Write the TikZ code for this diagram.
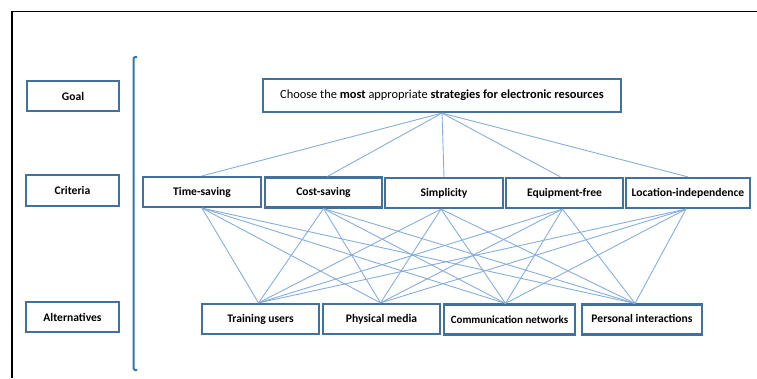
\documentclass[tikz,border=0pt]{standalone}
\usepackage{fontspec}
\setmainfont{Carlito}
\definecolor{boxblue}{HTML}{41719C}
\definecolor{linkblue}{HTML}{86AEDC}
\definecolor{bracketblue}{HTML}{2E75B6}
\tikzset{
  levelbox/.style={draw=boxblue, line width=2.2pt, fill=white, inner sep=0pt,
    minimum height=30pt, font=\fontsize{11.6}{13}\selectfont\bfseries},
  link/.style={draw=linkblue, line width=0.9pt},
}
\begin{document}
\begin{tikzpicture}[x=1pt,y=-1pt]
\useasboundingbox (0,0) rectangle (757,378);
% outer frame
\draw[line width=1.6pt] (12,378) -- (12,11.5) -- (757,11.5);
% bracket grouping the levels
\draw[bracketblue, line width=2pt, rounded corners=1.5pt]
  (137,57) -- (133.5,57) -- (133.5,370) -- (137,370);

% level labels
\node[levelbox, minimum width=92pt] (lgoal) at (73,96) {Goal};
\node[levelbox, minimum width=93pt, minimum height=31pt] (lcrit) at (72.5,190.5) {Criteria};
\node[levelbox, minimum width=93pt] (lalt) at (72.5,317) {Alternatives};

% goal
\node[levelbox, minimum width=358pt, minimum height=33pt, font=\fontsize{12.4}{14}\selectfont] (g) at (442,95.5)
  {Choose the \textbf{most} appropriate \textbf{strategies for electronic resources}};

% criteria
\node[levelbox, minimum width=118pt] (c1) at (202,192) {\raisebox{2pt}{Time-saving}};
\node[levelbox, minimum width=117pt] (c2) at (323.5,192.5) {\raisebox{1pt}{Cost-saving}};
\node[levelbox, minimum width=118pt] (c3) at (444,193) {\raisebox{2pt}{Simplicity}};
\node[levelbox, minimum width=117pt] (c4) at (564.5,193) {\raisebox{2pt}{Equipment-free}};
\node[levelbox, minimum width=124pt] (c5) at (688,193) {Location-independence};

% alternatives
\node[levelbox, minimum width=117pt] (a1) at (260.5,319) {Training users};
\node[levelbox, minimum width=117pt] (a2) at (381.5,319) {Physical media};
\node[levelbox, minimum width=131pt, font=\fontsize{11}{13}\selectfont\bfseries] (a3) at (509.5,319.5) {Communication networks};
\node[levelbox, minimum width=120pt] (a4) at (642,319.5) {\raisebox{2pt}{Personal interactions}};

% attachment points
\coordinate (gb) at (g.south);
\coordinate (c1t) at (c1.north);
\coordinate (c2t) at ([xshift=4pt]c2.north);
\coordinate (c3t) at (c3.north);
\coordinate (c4t) at ([xshift=-4pt]c4.north);
\coordinate (c5t) at (c5.north);
\coordinate (c1b) at (c1.south);
\coordinate (c2b) at (c2.south);
\coordinate (c3b) at ([xshift=-3pt]c3.south);
\coordinate (c4b) at ([xshift=-2pt]c4.south);
\coordinate (c5b) at ([xshift=-2pt]c5.south);
\coordinate (a1t) at ([xshift=-2pt]a1.north);
\coordinate (a2t) at ([xshift=-1pt]a2.north);
\coordinate (a3t) at ([xshift=-4pt]a3.north);
\coordinate (a4t) at ([xshift=-7pt]a4.north);

% goal to criteria
\foreach \c in {c1t,c2t,c3t,c4t,c5t}
  \draw[link] (gb) -- (\c);
% criteria to alternatives
\foreach \c in {c1b,c2b,c3b,c4b,c5b}
  \foreach \a in {a1t,a2t,a3t,a4t}
    \draw[link] (\c) -- (\a);
\end{tikzpicture}
\end{document}
